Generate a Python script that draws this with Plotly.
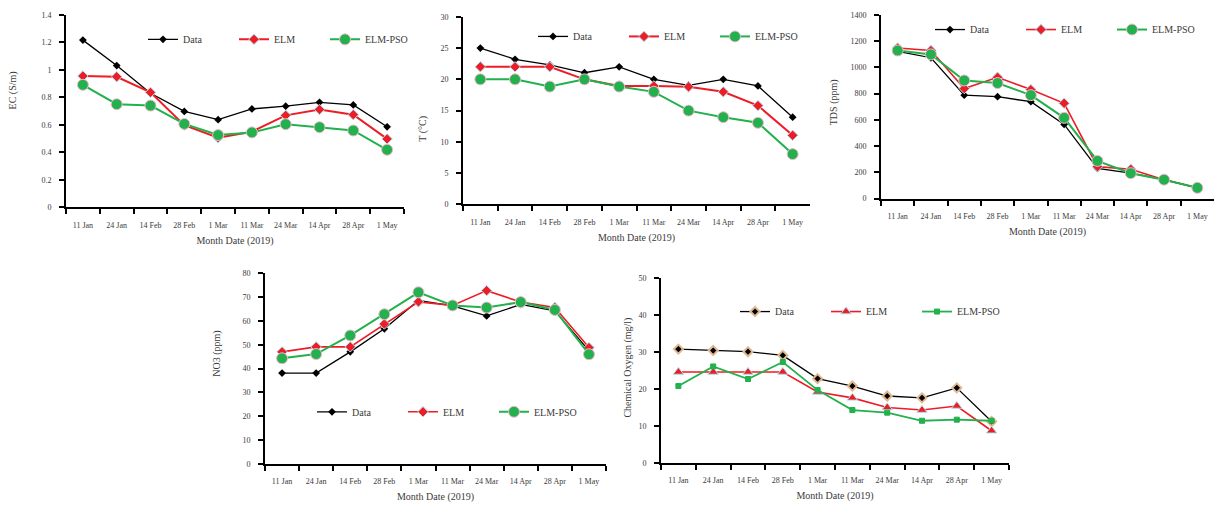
import plotly.graph_objects as go

dates = ["11 Jan", "24 Jan", "14 Feb", "28 Feb", "1 Mar", "11 Mar", "24 Mar", "14 Apr", "28 Apr", "1 May"]
series_names = ["Data", "ELM", "ELM-PSO"]

# Chart 1: EC
ec_data = [1.216, 1.031, 0.83, 0.698, 0.638, 0.716, 0.736, 0.764, 0.745, 0.586]
ec_elm = [0.955, 0.95, 0.836, 0.598, 0.507, 0.55, 0.669, 0.712, 0.674, 0.498]
ec_pso = [0.891, 0.75, 0.74, 0.607, 0.526, 0.545, 0.605, 0.583, 0.559, 0.419]

# Chart 2: Temperature
t_data = [25.0, 23.2, 22.3, 21.05, 22.0, 20.0, 19.05, 20.0, 18.95, 13.95]
t_elm = [22.0, 22.0, 22.0, 20.0, 18.95, 18.95, 18.8, 18.0, 15.8, 11.05]
t_pso = [20.0, 20.0, 18.84, 20.0, 18.84, 18.0, 15.0, 13.95, 13.05, 8.05]

# Chart 3: TDS
tds_data = [1122, 1073, 788, 776, 738, 565, 230, 193, 144, 82]
tds_elm = [1147, 1128, 838, 924, 830, 726, 243, 223, 144, 82]
tds_pso = [1128, 1098, 900, 880, 788, 615, 287, 193, 144, 82]

# Chart 4: NO3
no3_data = [38.1, 38.1, 47.0, 56.7, 68.6, 66.3, 62.1, 66.9, 64.2, 47.5]
no3_elm = [47.0, 49.1, 49.1, 58.7, 68.0, 66.5, 72.7, 67.9, 65.6, 48.8]
no3_pso = [44.3, 46.1, 53.9, 62.8, 72.0, 66.5, 65.6, 67.9, 64.6, 46.0]

# Chart 5: Oxygen
ox_data = [30.8, 30.4, 30.1, 29.1, 22.8, 20.8, 18.1, 17.6, 20.3, 11.2]
ox_elm = [24.6, 24.6, 24.6, 24.6, 19.2, 17.6, 15.0, 14.3, 15.4, 8.7]
ox_pso = [20.8, 26.1, 22.7, 27.3, 19.7, 14.3, 13.6, 11.4, 11.7, 11.4]

y_titles = ["EC (S/m)", "T (°C)", "TDS (ppm)", "NO3 (ppm)", "Chemical Oxygen (mg/l)"]
x_title = "Month Date (2019)"

W, H = 1216, 518
FONT = "Liberation Serif, Times New Roman, serif"
TXT = "#3a3a3a"
RED = "#ee1c24"
GREEN = "#22b14c"

def px_x(p):
    return p / W

def px_y(p):
    return 1 - p / H

# axis boxes in pixels: (left, right, top, bottom)
boxes = [
    (66, 404, 11, 207),
    (463, 810, 13, 204),
    (881, 1214, 11, 198),
    (265, 606, 274, 468),
    (661, 1009, 279, 467),
]
yranges = [(0, 1.4, 0.2), (0, 30, 5), (0, 1400, 200), (0, 80, 10), (0, 50, 10)]
# legend left x and centre y in pixels
legend_pos = [(143, 36), (533, 33), (930, 26), (312, 415), (735, 313)]
# y-title centre positions in pixels
ytitle_pos = [(13, 88), (423, 127), (834, 100), (217, 356), (628, 370)]

all_series = [
    (ec_data, ec_elm, ec_pso),
    (t_data, t_elm, t_pso),
    (tds_data, tds_elm, tds_pso),
    (no3_data, no3_elm, no3_pso),
    (ox_data, ox_elm, ox_pso),
]

fig = go.Figure()
layout = dict(
    width=W, height=H,
    margin=dict(l=0, r=0, t=0, b=0),
    paper_bgcolor="white", plot_bgcolor="white",
    font=dict(family=FONT, size=9, color=TXT),
    showlegend=True,
)
annotations = []

for i, (box, yr, (d, e, p), lp) in enumerate(zip(boxes, yranges, all_series, legend_pos)):
    n = i + 1
    xa = "x" if n == 1 else f"x{n}"
    ya = "y" if n == 1 else f"y{n}"
    lg = "legend" if n == 1 else f"legend{n}"
    last = (n == 5)

    fig.add_trace(go.Scatter(
        x=dates, y=d, name=series_names[0], xaxis=xa, yaxis=ya, legend=lg,
        mode="lines+markers",
        line=dict(color="black", width=1.3),
        marker=dict(symbol="diamond", size=7 if last else 6, color="black",
                    line=dict(color="#e0b890" if last else "black", width=2 if last else 0)),
    ))
    fig.add_trace(go.Scatter(
        x=dates, y=e, name=series_names[1], xaxis=xa, yaxis=ya, legend=lg,
        mode="lines+markers",
        line=dict(color=RED, width=2 if i in (0, 1) else 1.6),
        marker=dict(symbol="triangle-up" if last else "diamond", size=9 if last else 8,
                    color=RED, line=dict(color="#a8e0f0", width=1)),
    ))
    fig.add_trace(go.Scatter(
        x=dates, y=p, name=series_names[2], xaxis=xa, yaxis=ya, legend=lg,
        mode="lines+markers",
        line=dict(color=GREEN, width=2 if not last else 1.8),
        marker=dict(symbol="square" if last else "circle", size=5 if last else 11,
                    color=GREEN, line=dict(color="#f0b8d0" if not last else GREEN, width=1)),
    ))

    left, right, top, bottom = box
    layout["xaxis" if n == 1 else f"xaxis{n}"] = dict(
        domain=[px_x(left), px_x(right)], anchor=ya,
        type="category", range=[-0.5, 9.5], tickson="boundaries",
        showline=True, linecolor="black", linewidth=2,
        ticks="outside", ticklen=5, tickwidth=1.5, tickcolor="black",
        ticklabelstandoff=9,
        showgrid=False, zeroline=False, tickangle=0,
        tickfont=dict(family=FONT, size=8, color=TXT),
        title=dict(text=x_title, font=dict(family=FONT, size=10, color=TXT), standoff=8),
    )
    layout["yaxis" if n == 1 else f"yaxis{n}"] = dict(
        domain=[px_y(bottom), px_y(top)], anchor=xa,
        range=[yr[0], yr[1]], dtick=yr[2], tick0=0,
        showline=True, linecolor="black", linewidth=2,
        ticks="outside", ticklen=5, tickwidth=1.5, tickcolor="black",
        ticklabelstandoff=6,
        showgrid=False, zeroline=False,
        tickfont=dict(family=FONT, size=8, color=TXT),
    )
    layout[lg] = dict(
        orientation="h", x=px_x(lp[0]), y=px_y(lp[1]), xanchor="left", yanchor="middle",
        xref="paper", yref="paper",
        bgcolor="rgba(0,0,0,0)", font=dict(family=FONT, size=10, color=TXT),
        entrywidth=46, itemwidth=30,
        tracegroupgap=0,
    )
    tx, ty = ytitle_pos[i]
    annotations.append(dict(
        x=px_x(tx), y=px_y(ty), xref="paper", yref="paper",
        text=y_titles[i], textangle=-90, showarrow=False,
        xanchor="center", yanchor="middle",
        font=dict(family=FONT, size=10, color=TXT),
    ))

layout["annotations"] = annotations
fig.update_layout(**layout)
fig.write_html(
    "out.html",
    config={"displayModeBar": False},
    post_script="document.body.style.margin='0';document.body.style.overflow='hidden';",
)
